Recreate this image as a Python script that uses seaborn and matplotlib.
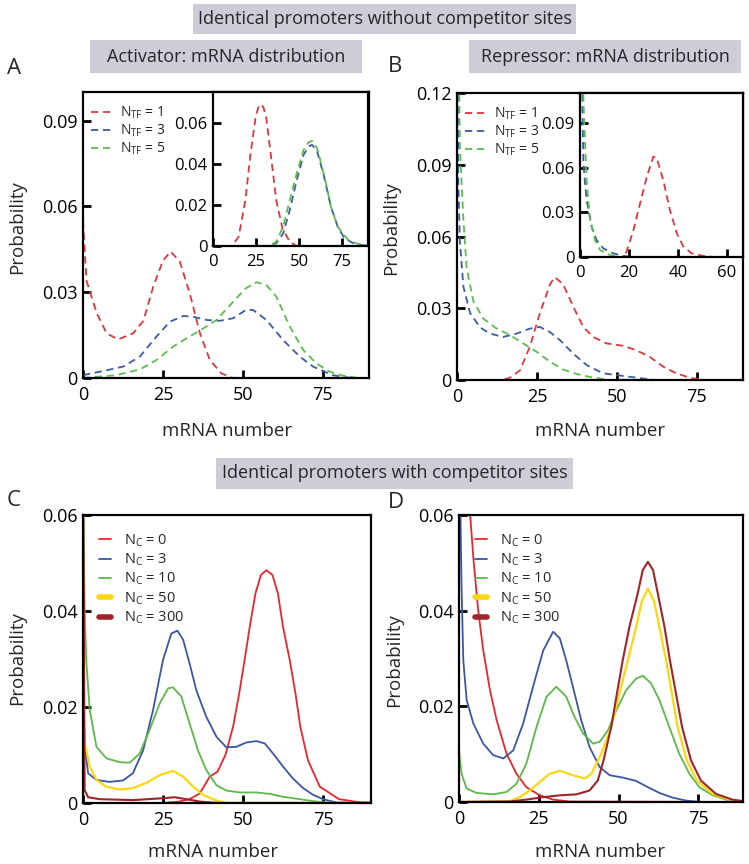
import matplotlib
matplotlib.use("Agg")
import matplotlib.pyplot as plt
import seaborn as sns
from matplotlib.patches import Rectangle

# ---------------- data ----------------
# Panel A (activator, main)
a_x_tf1 = [0, 1.1, 4.3, 7.4, 11, 15.7, 18.9, 22, 25, 27.4, 30.3, 33.4, 36.6, 39.7, 43.3, 47, 55, 70, 90]
a_y_tf1 = [0.055, 0.034, 0.0226, 0.0156, 0.0135, 0.0156, 0.020, 0.032, 0.041, 0.0442, 0.0407, 0.0296, 0.0156, 0.0063, 0.0016, 0.0, 0.0, 0.0, 0.0]
a_x_tf3 = [0, 5.3, 12.6, 17.8, 23, 27.2, 31.4, 34.5, 38.6, 42.8, 47, 51, 53.2, 57.4, 62.6, 67.8, 72, 78, 84, 90]
a_y_tf3 = [0.001, 0.0022, 0.004, 0.0075, 0.0145, 0.0197, 0.0217, 0.0214, 0.0203, 0.020, 0.0209, 0.0238, 0.0238, 0.0203, 0.0133, 0.0075, 0.004, 0.001, 0.0, 0.0]
a_x_tf5 = [0, 10.5, 17.8, 23, 28.2, 32.4, 36.6, 41.8, 47, 51, 54.3, 57.4, 60.5, 64.7, 68.9, 73, 77.2, 81.4, 86, 90]
a_y_tf5 = [0.0, 0.001, 0.003, 0.0063, 0.011, 0.0139, 0.0166, 0.0203, 0.0267, 0.0314, 0.0335, 0.0325, 0.0284, 0.018, 0.0098, 0.0051, 0.0022, 0.0008, 0.0, 0.0]

# Panel A inset
ai_x_tf1 = [0, 10.9, 14.9, 18.8, 21.8, 24.8, 26.3, 27.8, 29.3, 30.8, 33.7, 36.7, 40.3, 44.6, 48.6, 70, 90]
ai_y_tf1 = [0.0, 0.0, 0.0045, 0.0224, 0.045, 0.063, 0.0675, 0.069, 0.0675, 0.063, 0.0436, 0.0224, 0.0086, 0.002, 0.0, 0.0, 0.0]
ai_x_tf3 = [0, 30.8, 36.7, 40.7, 44.6, 48.6, 52.6, 55.5, 57.5, 60.5, 64.5, 68.5, 72.4, 76.4, 82.3, 90]
ai_y_tf3 = [0.0, 0.0, 0.0013, 0.006, 0.0176, 0.032, 0.0444, 0.0485, 0.0493, 0.046, 0.0338, 0.019, 0.0094, 0.0037, 0.001, 0.0]
ai_x_tf5 = [0, 32, 36.7, 40.7, 44.6, 48.6, 52.6, 55.5, 57.5, 60.5, 64.5, 68.5, 72.4, 78.4, 84.3, 90]
ai_y_tf5 = [0.0, 0.0, 0.002, 0.0094, 0.0224, 0.0354, 0.0468, 0.0505, 0.0512, 0.0476, 0.0346, 0.019, 0.0094, 0.003, 0.001, 0.0]

# Panel B (repressor, main)
b_x_tf1 = [0, 14.5, 16.6, 19.7, 22.8, 25.9, 29.1, 30.6, 33.2, 36.4, 39.5, 42.6, 46.8, 52, 56, 60.3, 64.5, 68.6, 72.8, 77, 90]
b_y_tf1 = [0.0, 0.0, 0.001, 0.004, 0.0139, 0.0278, 0.040, 0.043, 0.040, 0.0306, 0.0222, 0.018, 0.0153, 0.0143, 0.0125, 0.0097, 0.0056, 0.0028, 0.001, 0.0, 0.0]
b_x_tf3 = [0, 0.4, 0.9, 2, 4.1, 7.2, 10.3, 14.5, 18.6, 22.8, 25.9, 29.1, 32.2, 36.4, 40.5, 45.7, 52, 56, 62, 90]
b_y_tf3 = [0.2, 0.083, 0.058, 0.039, 0.028, 0.022, 0.0194, 0.018, 0.0194, 0.0215, 0.0222, 0.020, 0.0167, 0.011, 0.0063, 0.0028, 0.0017, 0.001, 0.0, 0.0]
b_x_tf5 = [0, 0.7, 0.9, 2, 3, 5.1, 8.2, 12.4, 16.6, 20.7, 24.9, 29.1, 33.2, 37.4, 42.6, 48, 90]
b_y_tf5 = [0.2, 0.12, 0.097, 0.067, 0.047, 0.033, 0.0257, 0.0215, 0.0188, 0.0153, 0.0118, 0.0076, 0.0044, 0.0025, 0.001, 0.0, 0.0]

# Panel B inset
bi_x_tf1 = [0, 17.7, 19, 21.8, 24.5, 27.2, 29.9, 31.3, 34, 36.7, 39.5, 42.2, 45.6, 50.3, 55, 70]
bi_y_tf1 = [0.0, 0.0, 0.0036, 0.018, 0.0358, 0.0535, 0.0673, 0.0664, 0.0513, 0.0313, 0.0158, 0.0069, 0.0024, 0.0007, 0.0, 0.0]
bi_x_tf3 = [0, 1.4, 2.7, 4.8, 6.8, 9.5, 13.6, 17.7, 22, 70]
bi_y_tf3 = [0.2, 0.062, 0.038, 0.020, 0.0113, 0.0058, 0.0024, 0.0007, 0.0, 0.0]
bi_x_tf5 = [0, 1.4, 2.7, 4.1, 6.1, 8.2, 12.2, 16, 70]
bi_y_tf5 = [0.3, 0.105, 0.051, 0.0247, 0.0113, 0.0047, 0.0013, 0.0, 0.0]

# Panel C (activator with competitor sites)
c_x_n0 = [0, 25, 30, 33.3, 36.5, 39.6, 42, 44.5, 46.9, 48.8, 50.5, 52.1, 53.9, 55.6, 57.3, 59.2, 60.9, 62.5, 64.6, 66.4, 67.9, 70.3, 74, 80, 86, 90]
c_y_n0 = [0.0, 0.0, 0.0003, 0.0008, 0.002, 0.0055, 0.0065, 0.010, 0.0159, 0.0228, 0.0298, 0.0367, 0.0437, 0.0475, 0.0485, 0.0475, 0.0437, 0.0367, 0.0298, 0.0228, 0.0159, 0.0089, 0.0034, 0.0008, 0.0002, 0.0001]
c_x_n3 = [0, 0.6, 1.6, 4.2, 8.3, 12.5, 15.6, 18.8, 21.9, 25, 27.6, 29.5, 31.3, 33.3, 35.4, 38.5, 41.7, 44.8, 47.9, 51, 54.2, 56.8, 59.4, 62.5, 65.6, 68.8, 71.9, 75, 79.2, 90]
c_y_n3 = [0.0228, 0.0117, 0.0062, 0.0048, 0.0044, 0.0047, 0.0062, 0.011, 0.0194, 0.0298, 0.0353, 0.0359, 0.034, 0.0291, 0.0235, 0.018, 0.0138, 0.0116, 0.0117, 0.0126, 0.0129, 0.0124, 0.0103, 0.0076, 0.0051, 0.0031, 0.0017, 0.0008, 0.0001, 0.0]
c_x_n10 = [0, 0.5, 1, 2.1, 4.2, 7.3, 11.5, 14.6, 17.7, 20.8, 24, 26.6, 28.1, 30.7, 33.3, 35.9, 38.5, 41.7, 44.8, 49, 54.2, 58.3, 62.5, 67.7, 72.9, 78, 90]
c_y_n10 = [0.065, 0.041, 0.0298, 0.0194, 0.0117, 0.0093, 0.0085, 0.0084, 0.0103, 0.0152, 0.0208, 0.0239, 0.0241, 0.0222, 0.0166, 0.011, 0.0069, 0.0037, 0.0026, 0.0022, 0.0022, 0.0019, 0.0013, 0.0008, 0.0003, 0.0, 0.0]
c_x_n50 = [0, 0.5, 1, 2.1, 4.2, 7.3, 11.5, 15.6, 19.8, 24, 28.1, 31.3, 34.4, 37.5, 41.7, 45, 90]
c_y_n50 = [0.0222, 0.0124, 0.011, 0.0076, 0.0048, 0.0034, 0.0028, 0.0031, 0.0042, 0.0058, 0.0067, 0.0055, 0.0034, 0.0017, 0.0005, 0.0, 0.0]
c_x_n300 = [0, 0.5, 1.6, 5.2, 15.6, 25, 28.6, 32.3, 36.5, 42, 90]
c_y_n300 = [0.08, 0.0027, 0.0012, 0.0008, 0.0006, 0.001, 0.0012, 0.0008, 0.0003, 0.0, 0.0]

# Panel D (repressor with competitor sites)
d_x_n0 = [0, 1, 2, 3, 3.5, 4.5, 6, 7.6, 9.7, 11.8, 14.9, 18, 21.1, 25.3, 29.5, 34.7, 90]
d_y_n0 = [0.12, 0.1, 0.08, 0.067, 0.06, 0.051, 0.0401, 0.0317, 0.0234, 0.0171, 0.0101, 0.0059, 0.0031, 0.0014, 0.0005, 0.0001, 0.0]
d_x_n3 = [0, 0.8, 1.35, 2.4, 4.5, 7.6, 10.7, 13.9, 17, 20.1, 23.2, 26.4, 29.5, 31.6, 33.6, 35.7, 38.3, 40.9, 44.1, 47.2, 51.4, 55.5, 58.6, 62.8, 67, 71.1, 76, 90]
d_y_n3 = [0.08, 0.045, 0.0296, 0.0213, 0.0164, 0.0122, 0.0098, 0.0091, 0.0108, 0.0164, 0.0241, 0.0317, 0.0356, 0.0342, 0.0296, 0.0241, 0.0171, 0.0115, 0.0073, 0.0056, 0.0051, 0.0044, 0.0033, 0.0019, 0.0009, 0.0003, 0.0, 0.0]
d_x_n10 = [0, 0.8, 2.4, 5.5, 10.7, 14.9, 18, 21.1, 24.3, 27.4, 30.5, 33.6, 36.2, 38.9, 42, 44.1, 46.7, 49.3, 52.4, 55.5, 57.6, 60.2, 62.8, 65.9, 69, 72.2, 75.3, 79.5, 84.7, 90]
d_y_n10 = [0.0108, 0.0059, 0.0028, 0.0019, 0.0016, 0.0021, 0.0038, 0.008, 0.0157, 0.022, 0.0241, 0.022, 0.0178, 0.0143, 0.0122, 0.0126, 0.015, 0.0192, 0.0234, 0.0258, 0.0264, 0.0248, 0.0213, 0.0157, 0.0101, 0.0059, 0.0031, 0.0014, 0.0003, 0.0]
d_x_n50 = [0, 15.9, 19, 22.2, 25.3, 28.4, 31.6, 35.7, 39.4, 41.5, 44.6, 47.7, 50.3, 52.9, 55.5, 57.3, 59.2, 61.1, 62.8, 64.9, 66.7, 68.5, 71.4, 74.5, 79.5, 84.7, 90]
d_y_n50 = [0.0, 0.0002, 0.001, 0.0024, 0.0042, 0.0059, 0.0065, 0.0056, 0.0049, 0.0059, 0.0101, 0.0157, 0.0227, 0.0296, 0.0366, 0.042, 0.0446, 0.042, 0.0366, 0.0296, 0.0227, 0.0157, 0.0087, 0.0045, 0.0017, 0.0005, 0.0]
d_x_n300 = [0, 15.9, 21.1, 26.3, 31.6, 36.8, 40.9, 43.5, 45.3, 47.7, 49.5, 51.3, 53.4, 56, 57.6, 59.2, 60.8, 62.3, 64.4, 66.1, 68, 69.9, 72.7, 75.8, 80.5, 85.7, 90]
d_y_n300 = [0.0, 0.0001, 0.0005, 0.001, 0.0014, 0.0016, 0.0024, 0.0045, 0.0087, 0.0157, 0.0227, 0.0296, 0.0366, 0.0436, 0.0485, 0.0502, 0.0485, 0.0436, 0.0366, 0.0296, 0.0227, 0.0157, 0.0087, 0.0045, 0.0017, 0.0005, 0.0001]

tf_labels = ["N$_\\mathrm{TF}$ = 1", "N$_\\mathrm{TF}$ = 3", "N$_\\mathrm{TF}$ = 5"]
nc_labels = ["N$_\\mathrm{C}$ = 0", "N$_\\mathrm{C}$ = 3", "N$_\\mathrm{C}$ = 10",
             "N$_\\mathrm{C}$ = 50", "N$_\\mathrm{C}$ = 300"]
main_xticks = [0, 25, 50, 75]

# ---------------- styling ----------------
sns.set_theme(style="white")
FONT = "Open Sans"
plt.rcParams["font.family"] = [FONT, "DejaVu Sans"]
plt.rcParams["mathtext.fontset"] = "custom"
plt.rcParams["mathtext.rm"] = FONT
plt.rcParams["mathtext.it"] = FONT + ":italic"
plt.rcParams["mathtext.bf"] = FONT + ":bold"

RED_D, BLUE_D, GREEN_D = "#e0363b", "#3b5ba6", "#5cbd4e"
RED, BLUE, GREEN, YELLOW, DRED = "#e8262b", "#3d55a5", "#5cb848", "#fbd70f", "#a0252a"
BOXC = "#cdcdd7"
DASH = (0, (4.0, 2.6))

W, H = 749, 864
fig = plt.figure(figsize=(W / 100, H / 100), dpi=100)


def rect(l, t, r, b):
    return [l / W, 1 - b / H, (r - l) / W, (b - t) / H]


def ftext(x, y, s, **kw):
    fig.text(x / W, 1 - y / H, s, ha="center", va="center", **kw)


def style_ax(ax, xlim, ylim, xticks, yticks, yfmt, fs=13):
    ax.set_xlim(*xlim)
    ax.set_ylim(*ylim)
    ax.set_xticks(xticks)
    ax.set_xticklabels([str(t) for t in xticks])
    ax.set_yticks(yticks)
    ax.set_yticklabels(["0" if t == 0 else yfmt.format(t) for t in yticks])
    for s in ax.spines.values():
        s.set_visible(True)
        s.set_color("black")
        s.set_linewidth(1.6)
    ax.tick_params(axis="both", which="both", direction="in", length=6, width=2,
                   color="black", labelsize=fs, labelcolor="black",
                   bottom=True, left=True, top=False, right=False)
    ax.tick_params(axis="x", pad=6)
    ax.tick_params(axis="y", pad=4)
    ax.set_xlabel("")
    ax.set_ylabel("")
    ax.grid(False)


def line(ax, x, y, color, label=None, dashed=False, lw=1.3):
    kw = dict(linestyle=DASH) if dashed else {}
    sns.lineplot(x=x, y=y, ax=ax, color=color, label=label, estimator=None,
                 sort=False, linewidth=lw, legend=False, **kw)


def tf_legend(ax):
    ax.legend(loc="upper left", bbox_to_anchor=(0.0, 0.985), frameon=False, fontsize=10,
              handlelength=1.6, handletextpad=0.5, labelspacing=0.12, borderaxespad=0.2)


# ---------------- Panel A ----------------
axA = fig.add_axes(rect(83, 92, 369, 378))
line(axA, a_x_tf1, a_y_tf1, RED_D, tf_labels[0], True)
line(axA, a_x_tf3, a_y_tf3, BLUE_D, tf_labels[1], True)
line(axA, a_x_tf5, a_y_tf5, GREEN_D, tf_labels[2], True)
style_ax(axA, (0, 89.5), (0, 0.1), main_xticks, [0, 0.03, 0.06, 0.09], "{:.2f}")
tf_legend(axA)

axAi = fig.add_axes(rect(213, 92, 368, 246))
axAi.set_facecolor("white")
line(axAi, ai_x_tf1, ai_y_tf1, RED_D, dashed=True)
line(axAi, ai_x_tf3, ai_y_tf3, BLUE_D, dashed=True)
line(axAi, ai_x_tf5, ai_y_tf5, GREEN_D, dashed=True)
style_ax(axAi, (0, 90), (0, 0.075), main_xticks, [0, 0.02, 0.04, 0.06], "{:.2f}", fs=12)

# ---------------- Panel B ----------------
axB = fig.add_axes(rect(457, 93, 743, 380))
line(axB, b_x_tf1, b_y_tf1, RED_D, tf_labels[0], True)
line(axB, b_x_tf3, b_y_tf3, BLUE_D, tf_labels[1], True)
line(axB, b_x_tf5, b_y_tf5, GREEN_D, tf_labels[2], True)
style_ax(axB, (0, 89.5), (0, 0.12), main_xticks, [0, 0.03, 0.06, 0.09, 0.12], "{:.2f}")
tf_legend(axB)

axBi = fig.add_axes(rect(580, 93, 743, 257))
axBi.set_facecolor("white")
line(axBi, bi_x_tf1, bi_y_tf1, RED_D, dashed=True)
line(axBi, bi_x_tf3, bi_y_tf3, BLUE_D, dashed=True)
line(axBi, bi_x_tf5, bi_y_tf5, GREEN_D, dashed=True)
style_ax(axBi, (0, 66.5), (0, 0.11), [0, 20, 40, 60], [0, 0.03, 0.06, 0.09], "{:.2f}", fs=12)

# ---------------- Panel C ----------------
axC = fig.add_axes(rect(83, 515, 371, 803))
line(axC, c_x_n0, c_y_n0, RED, nc_labels[0])
line(axC, c_x_n3, c_y_n3, BLUE, nc_labels[1])
line(axC, c_x_n10, c_y_n10, GREEN, nc_labels[2])
line(axC, c_x_n50, c_y_n50, YELLOW, nc_labels[3], lw=1.6)
line(axC, c_x_n300, c_y_n300, DRED, nc_labels[4], lw=1.5)
style_ax(axC, (0, 90), (0, 0.06), main_xticks, [0, 0.02, 0.04, 0.06], "{:.2f}")

# ---------------- Panel D ----------------
axD = fig.add_axes(rect(459, 515, 743, 802))
line(axD, d_x_n0, d_y_n0, RED, nc_labels[0])
line(axD, d_x_n3, d_y_n3, BLUE, nc_labels[1])
line(axD, d_x_n10, d_y_n10, GREEN, nc_labels[2])
line(axD, d_x_n50, d_y_n50, YELLOW, nc_labels[3], lw=1.6)
line(axD, d_x_n300, d_y_n300, DRED, nc_labels[4], lw=1.5)
style_ax(axD, (0, 89), (0, 0.06), main_xticks, [0, 0.02, 0.04, 0.06], "{:.2f}")

for ax in (axC, axD):
    leg = ax.legend(loc="upper left", bbox_to_anchor=(0.025, 0.97), frameon=False, fontsize=10.5,
                    handlelength=0.8, handletextpad=0.9, labelspacing=0.2, borderaxespad=0.2)
    for i, l in enumerate(leg.get_lines()):
        l.set_linewidth(4 if i >= 3 else 1.3)

# ---------------- labels & title boxes ----------------
for (l, t, r, b) in [(193, 4, 576, 34), (90, 40, 362, 73), (469, 40, 741, 73), (216, 458, 573, 489)]:
    fig.patches.append(Rectangle((l / W, 1 - b / H), (r - l) / W, (b - t) / H,
                                 transform=fig.transFigure, facecolor=BOXC, edgecolor="none", zorder=0))
ftext(384.5, 19, "Identical promoters without competitor sites", fontsize=13)
ftext(226, 56.5, "Activator: mRNA distribution", fontsize=13)
ftext(605, 56.5, "Repressor: mRNA distribution", fontsize=13)
ftext(394.5, 473.5, "Identical promoters with competitor sites", fontsize=13)

ftext(14, 68, "A", fontsize=16)
ftext(395, 66, "B", fontsize=16)
ftext(14, 500, "C", fontsize=16)
ftext(396, 502, "D", fontsize=16)

for (x, y) in [(17, 227), (391, 228), (17, 658), (394, 660)]:
    ftext(x, y, "Probability", fontsize=13.5, rotation=90)
for (x, y) in [(227, 431), (600, 431), (213, 852), (600, 852)]:
    ftext(x, y, "mRNA number", fontsize=13.5)

fig.savefig("out.png", dpi=100)
